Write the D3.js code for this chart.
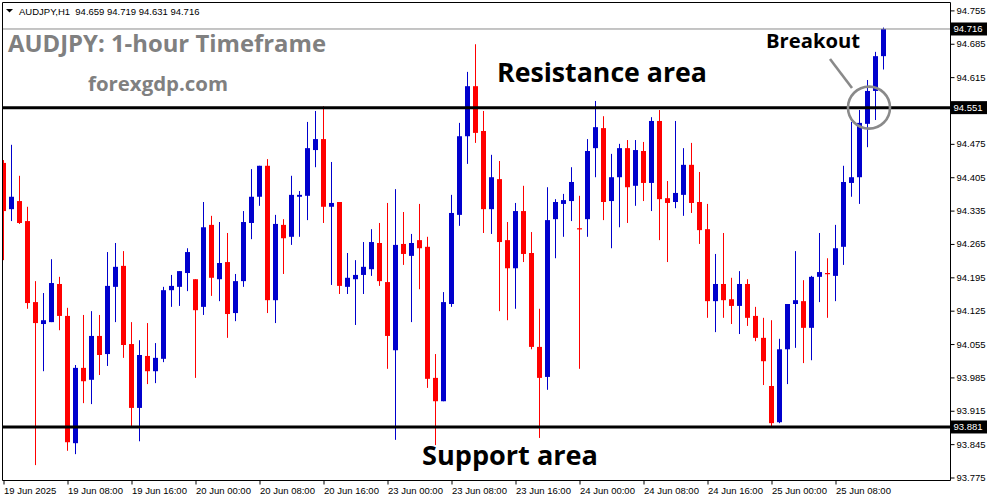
<!DOCTYPE html>
<html><head><meta charset="utf-8">
<script src="https://cdn.jsdelivr.net/npm/d3@7"></script>
<style>html,body{margin:0;padding:0;background:#fff;} svg{display:block;}</style>
</head><body>
<svg id="c" width="991" height="501"></svg>
<script>
// ---- data ----
const timeLabels = ["19 Jun 2025","19 Jun 08:00","19 Jun 16:00","20 Jun 00:00","20 Jun 08:00","20 Jun 16:00","23 Jun 00:00","23 Jun 08:00","23 Jun 16:00","24 Jun 00:00","24 Jun 08:00","24 Jun 16:00","25 Jun 00:00","25 Jun 08:00"];
const timeTickIndex = [0,8,16,24,32,40,48,56,64,72,80,88,96,104];
const priceTicks = [94.755,94.685,94.615,94.545,94.475,94.405,94.335,94.265,94.195,94.125,94.055,93.985,93.915,93.845,93.775];

const opens = [94.435,94.338,94.355,94.313,94.143,94.097,94.101,94.181,94.114,93.847,
94.005,93.980,94.072,94.034,94.175,94.219,94.055,93.921,94.030,93.998,
94.024,94.168,94.175,94.204,94.191,94.133,94.305,94.191,94.227,94.120,
94.187,94.309,94.364,94.429,94.147,94.305,94.280,94.364,94.366,94.462,
94.485,94.343,94.353,94.175,94.191,94.200,94.212,94.267,94.185,94.042,
94.265,94.240,94.273,94.259,93.984,93.935,94.139,94.326,94.491,94.596,
94.502,94.338,94.401,94.273,94.214,94.334,94.246,94.049,93.986,94.317,
94.349,94.355,94.298,94.317,94.466,94.508,94.355,94.405,94.466,94.387,
94.460,94.393,94.523,94.361,94.353,94.368,94.431,94.353,94.296,94.145,
94.181,94.149,94.135,94.181,94.114,94.068,93.967,93.891,94.044,94.139,
94.145,94.089,94.196,94.204,94.198,94.259,94.393,94.405,94.517,94.586,
94.659];
const highs = [94.441,94.473,94.408,94.343,94.187,94.162,94.233,94.196,94.131,94.011,
94.116,94.124,94.116,94.248,94.267,94.250,94.101,94.063,94.099,94.057,
94.175,94.200,94.208,94.256,94.191,94.353,94.324,94.311,94.288,94.202,
94.334,94.422,94.429,94.443,94.326,94.317,94.408,94.376,94.521,94.544,
94.554,94.437,94.353,94.246,94.231,94.269,94.296,94.309,94.351,94.380,
94.332,94.286,94.349,94.280,94.034,94.164,94.368,94.519,94.626,94.684,
94.544,94.452,94.439,94.311,94.351,94.387,94.290,94.129,94.384,94.359,
94.370,94.426,94.366,94.485,94.565,94.533,94.454,94.475,94.483,94.483,
94.479,94.531,94.546,94.397,94.523,94.466,94.477,94.416,94.349,94.244,
94.288,94.194,94.208,94.191,94.133,94.110,94.105,94.066,94.139,94.250,
94.189,94.198,94.288,94.235,94.305,94.429,94.521,94.546,94.609,94.668,
94.719];
const lows = [94.231,94.313,94.307,94.129,93.801,93.998,94.101,94.084,93.831,93.824,
93.931,93.929,93.990,94.009,94.101,94.026,93.881,93.851,93.971,93.973,
94.017,94.133,94.135,94.166,93.984,94.116,94.156,94.145,94.068,94.103,
94.175,94.275,94.345,94.120,94.099,94.202,94.263,94.280,94.315,94.426,
94.309,94.179,94.160,94.160,94.095,94.160,94.198,94.177,94.003,93.854,
94.221,94.101,94.170,93.963,93.843,93.935,94.133,94.303,94.433,94.477,
94.288,94.286,94.124,94.105,94.129,94.227,94.044,93.858,93.959,94.235,
94.280,94.313,94.003,94.280,94.405,94.315,94.256,94.300,94.309,94.345,
94.355,94.334,94.273,94.227,94.340,94.324,94.330,94.265,94.110,94.080,
94.110,94.097,94.076,94.093,94.061,93.969,93.883,93.889,93.971,94.047,
94.015,94.021,94.143,94.110,94.145,94.221,94.364,94.349,94.468,94.525,
94.631];
const closes = [94.334,94.364,94.309,94.141,94.099,94.105,94.183,94.114,93.849,94.005,
93.977,94.072,94.032,94.177,94.217,94.053,93.921,94.032,93.998,94.026,
94.168,94.177,94.208,94.248,94.126,94.300,94.194,94.225,94.118,94.187,
94.311,94.364,94.429,94.147,94.307,94.277,94.368,94.368,94.466,94.485,
94.343,94.351,94.177,94.194,94.200,94.217,94.269,94.187,94.072,94.263,
94.244,94.267,94.256,93.982,93.935,94.143,94.330,94.491,94.596,94.498,
94.338,94.405,94.269,94.214,94.334,94.244,94.049,93.984,94.315,94.353,
94.357,94.395,94.296,94.460,94.510,94.353,94.405,94.466,94.384,94.462,
94.393,94.523,94.359,94.351,94.372,94.431,94.351,94.294,94.145,94.181,
94.147,94.135,94.181,94.110,94.068,94.019,93.889,94.044,94.139,94.147,
94.089,94.196,94.206,94.202,94.256,94.395,94.405,94.519,94.586,94.659,
94.716];

const resistanceLevel = 94.551;
const supportLevel = 93.881;
const lastPrice = 94.716;
const headerText = "AUDJPY,H1  94.659 94.719 94.631 94.716";
const titleText = "AUDJPY: 1-hour Timeframe";
const siteText = "forexgdp.com";

// ---- drawing ----
const svg = d3.select("#c");
const frame = {left: 2, top: 2, right: 950, bottom: 480};
const y = d3.scaleLinear().domain([93.775, 94.755]).range([477.5, 10.4]);
const x = d3.scaleLinear().domain([0, opens.length - 1]).range([3.5, 883.5]);
const UP = "#0000cd", DOWN = "#ff0000";
const axisFont = "'Liberation Sans', Arial, sans-serif";

svg.append("rect").attr("width", 991).attr("height", 501).attr("fill", "#fff");

svg.append("defs").append("clipPath").attr("id", "plotclip")
  .append("rect").attr("x", frame.left + 0.5).attr("y", frame.top + 0.5)
  .attr("width", frame.right - frame.left - 0.5).attr("height", frame.bottom - frame.top - 0.5);

const plot = svg.append("g").attr("clip-path", "url(#plotclip)");

const candles = d3.range(opens.length).map(i => ({
  i, o: opens[i], h: highs[i], l: lows[i], c: closes[i]
}));

const cg = plot.append("g").selectAll("g").data(candles).join("g");
cg.append("line")
  .attr("x1", d => x(d.i)).attr("x2", d => x(d.i))
  .attr("y1", d => y(d.h)).attr("y2", d => y(d.l))
  .attr("stroke", d => d.c >= d.o ? UP : DOWN).attr("stroke-width", 1);
cg.append("rect")
  .attr("x", d => x(d.i) - 2.5)
  .attr("y", d => y(Math.max(d.o, d.c)))
  .attr("width", 5)
  .attr("height", d => Math.max(1.2, Math.abs(y(d.o) - y(d.c))))
  .attr("fill", d => d.c >= d.o ? UP : DOWN);

// level lines
plot.append("line").attr("x1", frame.left).attr("x2", frame.right)
  .attr("y1", y(lastPrice)).attr("y2", y(lastPrice))
  .attr("stroke", "#8a8a8a").attr("stroke-width", 1);
[resistanceLevel, supportLevel].forEach(v => {
  plot.append("line").attr("x1", frame.left).attr("x2", frame.right)
    .attr("y1", y(v)).attr("y2", y(v))
    .attr("stroke", "#000").attr("stroke-width", 3);
});

// frame
svg.append("path")
  .attr("d", `M${frame.right + 0.5},${frame.top + 0.5} H${frame.left + 0.5} V${frame.bottom + 0.5} H${frame.right + 0.5} Z`)
  .attr("fill", "none").attr("stroke", "#000").attr("stroke-width", 1);

// price axis
const yAxis = d3.axisRight(y).tickValues(priceTicks).tickSize(4).tickPadding(2)
  .tickFormat(d3.format(".3f"));
const ya = svg.append("g").attr("transform", `translate(${frame.right + 0.5},0)`).call(yAxis);
ya.select(".domain").remove();
ya.selectAll("text").attr("font-family", axisFont).attr("font-size", 9.5).attr("fill", "#000");
ya.selectAll("line").attr("stroke", "#000");

// time axis
const xAxis = d3.axisBottom(x).tickValues(timeTickIndex).tickSize(4).tickPadding(3)
  .tickFormat((d, i) => timeLabels[i]);
const xa = svg.append("g").attr("transform", `translate(0,${frame.bottom + 0.5})`).call(xAxis);
xa.select(".domain").remove();
xa.selectAll("text").attr("font-family", axisFont).attr("font-size", 9.5).attr("fill", "#000")
  .attr("text-anchor", "start").attr("x", 0);
xa.selectAll("line").attr("stroke", "#000");

// price marker boxes
[lastPrice, resistanceLevel, supportLevel].forEach(v => {
  const g = svg.append("g").attr("transform", `translate(${frame.right + 1},${y(v)})`);
  g.append("rect").attr("x", 0).attr("y", -6.5).attr("width", 36).attr("height", 13).attr("fill", "#000");
  g.append("text").attr("x", 2.5).attr("dy", "0.34em").text(d3.format(".3f")(v))
    .attr("font-family", axisFont).attr("font-size", 9.5).attr("fill", "#fff");
});

// header
svg.append("path").attr("d", "M6,9 L13,9 L9.5,12.5 Z").attr("fill", "#000");
svg.append("text").attr("x", 19).attr("y", 14.5).text(headerText)
  .attr("font-family", axisFont).attr("font-size", 9.5).attr("fill", "#000")
  .attr("xml:space", "preserve").style("white-space", "pre");

// titles
svg.append("text").attr("x", 8).attr("y", 52).text(titleText)
  .attr("font-family", "'Open Sans', sans-serif").attr("font-weight", 700).attr("font-size", 23)
  .attr("fill", "#808080").attr("textLength", 318).attr("lengthAdjust", "spacingAndGlyphs");
svg.append("text").attr("x", 88).attr("y", 91).text(siteText)
  .attr("font-family", "'Open Sans', sans-serif").attr("font-weight", 700).attr("font-size", 20)
  .attr("fill", "#808080").attr("textLength", 140).attr("lengthAdjust", "spacingAndGlyphs");

const labelFont = "'Open Sans', sans-serif";
svg.append("text").attr("x", 497).attr("y", 82).text("Resistance area")
  .attr("font-family", labelFont).attr("font-weight", 700).attr("font-size", 27)
  .attr("fill", "#000").attr("textLength", 210).attr("lengthAdjust", "spacingAndGlyphs");
svg.append("text").attr("x", 422).attr("y", 465).text("Support area")
  .attr("font-family", labelFont).attr("font-weight", 700).attr("font-size", 27)
  .attr("fill", "#000").attr("textLength", 176).attr("lengthAdjust", "spacingAndGlyphs");
svg.append("text").attr("x", 766).attr("y", 48).text("Breakout")
  .attr("font-family", labelFont).attr("font-weight", 700).attr("font-size", 20)
  .attr("fill", "#000").attr("textLength", 94).attr("lengthAdjust", "spacingAndGlyphs");

// breakout pointer
svg.append("line").attr("x1", 830).attr("y1", 59).attr("x2", 852).attr("y2", 88)
  .attr("stroke", "#8a8a8a").attr("stroke-width", 2.6);
svg.append("circle").attr("cx", x(opens.length - 3) + 1.5).attr("cy", y(resistanceLevel))
  .attr("r", 21).attr("fill", "none").attr("stroke", "#8a8a8a").attr("stroke-width", 2.6);
</script>
</body></html>
